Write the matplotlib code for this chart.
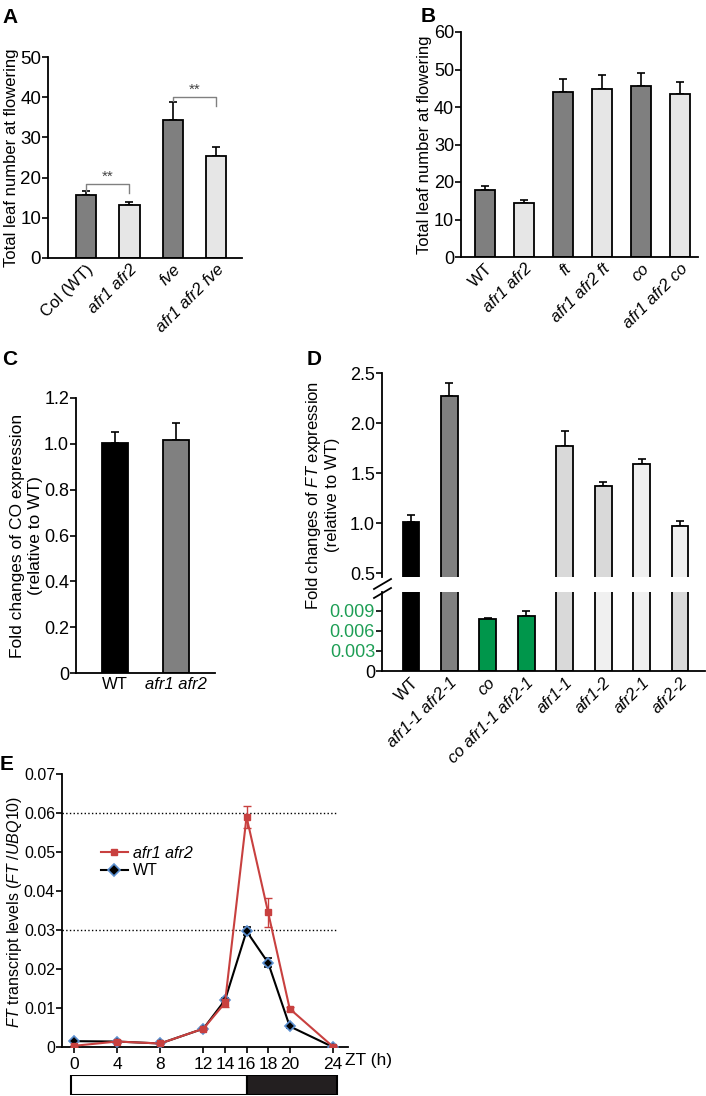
import matplotlib
matplotlib.use("Agg")
import matplotlib.pyplot as plt
import numpy as np
from matplotlib.lines import Line2D
from matplotlib.patches import Rectangle

plt.rcParams['font.family'] = ['Liberation Sans', 'DejaVu Sans']
plt.rcParams['mathtext.fontset'] = 'custom'
plt.rcParams['mathtext.rm'] = 'Liberation Sans'
plt.rcParams['mathtext.it'] = 'Liberation Sans:italic'

# ---- data ----
a_labels = ['Col (WT)', 'afr1 afr2', 'fve', 'afr1 afr2 fve']
a_vals = [15.7, 13.2, 34.3, 25.4]
a_err = [1.0, 0.8, 4.5, 2.3]

b_labels = ['WT', 'afr1 afr2', 'ft', 'afr1 afr2 ft', 'co', 'afr1 afr2 co']
b_vals = [18.0, 14.5, 43.9, 44.8, 45.5, 43.6]
b_err = [0.9, 0.6, 3.6, 3.7, 3.7, 3.1]

c_labels = ['WT', 'afr1 afr2']
c_vals = [1.005, 1.015]
c_err = [0.045, 0.075]

d_labels = ['WT', 'afr1-1 afr2-1', 'co', 'co afr1-1 afr2-1',
            'afr1-1', 'afr1-2', 'afr2-1', 'afr2-2']
d_vals = [1.01, 2.27, 0.0078, 0.00825, 1.77, 1.37, 1.59, 0.97]
d_err = [0.07, 0.13, 0.0001, 0.0007, 0.15, 0.04, 0.05, 0.05]

zt = [0, 4, 8, 12, 14, 16, 18, 20, 24]
mut = [0.0003, 0.0014, 0.0009, 0.0047, 0.0113, 0.0590, 0.0345, 0.0098, 0.0001]
mut_err = [0.0002, 0.0003, 0.0002, 0.0003, 0.0010, 0.0028, 0.0037, 0.0005, 0.0001]
wt = [0.0015, 0.0014, 0.0009, 0.0047, 0.0120, 0.0297, 0.0216, 0.0053, 0.0]
wt_err = [0.0002, 0.0002, 0.0001, 0.0003, 0.0006, 0.0011, 0.0011, 0.0003, 0.0001]

dark = '#7f7f7f'
light = '#e6e6e6'
green = '#00964b'
red = '#c8403f'

W, H = 706, 1096
fig = plt.figure(figsize=(W / 100, H / 100), dpi=100)


def box(l, t, r, b):
    return [l / W, 1 - b / H, (r - l) / W, (b - t) / H]


def style(ax, size=13):
    for s in ['top', 'right']:
        ax.spines[s].set_visible(False)
    for s in ['left', 'bottom']:
        ax.spines[s].set_linewidth(1.3)
    ax.tick_params(axis='y', direction='out', length=4, width=1.2, labelsize=size, pad=1)
    ax.tick_params(axis='x', length=0, labelsize=12, pad=3)


def bars(ax, vals, err, colors, width):
    x = np.arange(len(vals))
    ax.bar(x, vals, width=width, color=colors, edgecolor='black', linewidth=1.3, zorder=2)
    ax.errorbar(x, vals, yerr=[np.zeros(len(vals)), err], fmt='none', ecolor='black',
                elinewidth=1.2, capsize=3, capthick=1.2, zorder=1)
    return x


def italic_ticks(ax, skip):
    for lab in ax.get_xticklabels():
        if lab.get_text() not in skip:
            lab.set_fontstyle('italic')


# ---- A ----
axA = fig.add_axes(box(48, 57, 242, 258))
style(axA, 13.5)
x = bars(axA, a_vals, a_err, [dark, light, dark, light], 0.47)
axA.set_xlim(-0.88, 3.6)
axA.set_ylim(0, 50)
axA.set_yticks([0, 10, 20, 30, 40, 50])
axA.set_yticklabels(['0', '10', '20', '30', '40', '50'])
axA.set_xticks(x)
axA.set_xticklabels(a_labels, rotation=45, ha='right', rotation_mode='anchor')
italic_ticks(axA, ['Col (WT)'])
axA.set_ylabel('Total leaf number at flowering', fontsize=12, labelpad=1)
axA.plot([0, 0, 1, 1], [16.7, 18.3, 18.3, 16.1], color='#808080', lw=1)
axA.text(0.5, 18.4, '**', ha='center', va='bottom', fontsize=11, color='#444444')
axA.plot([2, 2, 3, 3], [39.0, 40.1, 40.1, 37.8], color='#808080', lw=1)
axA.text(2.5, 40.2, '**', ha='center', va='bottom', fontsize=11, color='#444444')

# ---- B ----
axB = fig.add_axes(box(461, 32, 698, 257))
style(axB, 13)
x = bars(axB, b_vals, b_err, [dark, light] * 3, 0.5)
axB.set_xlim(-0.62, 5.46)
axB.set_ylim(0, 60)
axB.set_yticks([0, 10, 20, 30, 40, 50, 60])
axB.set_xticks(x)
axB.set_xticklabels(b_labels, rotation=45, ha='right', rotation_mode='anchor')
italic_ticks(axB, ['WT'])
axB.set_ylabel('Total leaf number at flowering', fontsize=12, labelpad=1)

# ---- C ----
axC = fig.add_axes(box(76, 398, 215, 673))
style(axC, 13)
x = bars(axC, c_vals, c_err, ['black', '#808080'], 0.42)
axC.set_xlim(-0.63, 1.63)
axC.set_ylim(0, 1.2)
axC.set_yticks([0, 0.2, 0.4, 0.6, 0.8, 1.0, 1.2])
axC.set_yticklabels(['0', '0.2', '0.4', '0.6', '0.8', '1.0', '1.2'])
axC.set_xticks(x)
axC.set_xticklabels(c_labels)
italic_ticks(axC, ['WT'])
axC.set_ylabel('Fold changes of CO expression\n(relative to WT)', fontsize=12.5, labelpad=1)

# ---- D (broken axis) ----
up_colors = ['black', '#808080', green, green, '#d9d9d9', '#d9d9d9', '#f0f0f0', '#f0f0f0']
lo_colors = ['black', '#808080', green, green, '#d9d9d9', '#f0f0f0', '#f0f0f0', '#d9d9d9']

axDu = fig.add_axes(box(382, 373, 705, 577))
style(axDu, 13)
axDu.spines['bottom'].set_visible(False)
x = bars(axDu, d_vals, d_err, up_colors, 0.44)
axDu.set_xlim(-0.755, 7.65)
axDu.set_ylim(0.46, 2.5)
axDu.set_yticks([0.5, 1.0, 1.5, 2.0, 2.5])
axDu.set_yticklabels(['0.5', '1.0', '1.5', '2.0', '2.5'])
axDu.set_xticks([])

axDl = fig.add_axes(box(382, 592, 705, 671))
style(axDl, 13)
x = bars(axDl, d_vals, d_err, lo_colors, 0.44)
axDl.set_xlim(-0.755, 7.65)
axDl.set_ylim(0, 0.0118)
axDl.set_yticks([0, 0.003, 0.006, 0.009])
axDl.set_yticklabels(['0', '0.003', '0.006', '0.009'])
for lab in axDl.get_yticklabels()[1:]:
    lab.set_color('#1e9e55')
axDl.set_xticks(x)
axDl.set_xticklabels(d_labels, rotation=45, ha='right', rotation_mode='anchor')
italic_ticks(axDl, ['WT'])

fig.text(322 / W, 1 - 495 / H, 'Fold changes of $\\it{FT}$ expression\n(relative to WT)',
         rotation=90, ha='center', va='center', fontsize=12, multialignment='center')
for y0 in [589, 598]:
    fig.add_artist(Line2D([374 / W, 391 / W], [1 - y0 / H, 1 - (y0 - 10) / H],
                          color='black', lw=1.3))

# ---- E ----
axE = fig.add_axes(box(62, 774, 348, 1047))
style(axE, 11.5)
axE.tick_params(axis='x', direction='out', length=4, width=1.2, labelsize=12.5, pad=3)
axE.set_xlim(-1.1, 25.4)
axE.set_ylim(0, 0.07)
axE.set_xticks(zt)
axE.set_yticks([0, 0.01, 0.02, 0.03, 0.04, 0.05, 0.06, 0.07])
axE.set_yticklabels(['0', '0.01', '0.02', '0.03', '0.04', '0.05', '0.06', '0.07'])
axE.plot([-1.1, 24.4], [0.06, 0.06], ls=':', color='black', lw=1)
axE.plot([-1.1, 24.4], [0.03, 0.03], ls=':', color='black', lw=1)
axE.errorbar(zt, wt, yerr=wt_err, color='black', lw=1.5, marker='D', ms=5,
             mfc='black', mec='#5b8fd0', mew=1.2, ecolor='black', elinewidth=1,
             capsize=3, zorder=3)
axE.errorbar(zt, mut, yerr=mut_err, color=red, lw=1.5, marker='s', ms=5,
             mfc=red, mec=red, ecolor=red, elinewidth=1, capsize=3, zorder=4)
h_mut = Line2D([], [], color=red, lw=1.5, marker='s', ms=5, mfc=red, mec=red)
h_wt = Line2D([], [], color='black', lw=1.5, marker='D', ms=6, mfc='black',
              mec='#5b8fd0', mew=1.2)
leg = axE.legend([h_mut, h_wt], ['afr1 afr2', 'WT'], loc='upper left',
                 bbox_to_anchor=(0.085, 0.79), frameon=False, fontsize=11.5,
                 handlelength=1.7, handletextpad=0.3, labelspacing=0.15)
leg.get_texts()[0].set_fontstyle('italic')
fig.text(15 / W, 1 - 912 / H, '$\\it{FT}$ transcript levels ($\\mathit{FT\\ /UBQ10}$)',
         rotation=90, ha='center', va='center', fontsize=11.5)
fig.text(345 / W, 1 - 1061 / H, 'ZT (h)', ha='left', va='center', fontsize=12.5)

axL = fig.add_axes(box(62, 1075, 348, 1095))
axL.set_xlim(-1.1, 25.4)
axL.set_ylim(0, 1)
axL.axis('off')
axL.add_patch(Rectangle((-0.3, 0), 16.3, 1, facecolor='white', edgecolor='black', lw=1.5))
axL.add_patch(Rectangle((16.0, 0), 8.4, 1, facecolor='#231f20', edgecolor='black', lw=1.5))

# ---- panel letters ----
for txt, px_, py_ in [('A', 2, 8), ('B', 421, 7), ('C', 2, 350), ('D', 307, 350), ('E', 0, 755)]:
    fig.text(px_ / W, 1 - py_ / H, txt, fontsize=15, fontweight='bold', ha='left', va='top')

fig.savefig('out.png', dpi=100)
